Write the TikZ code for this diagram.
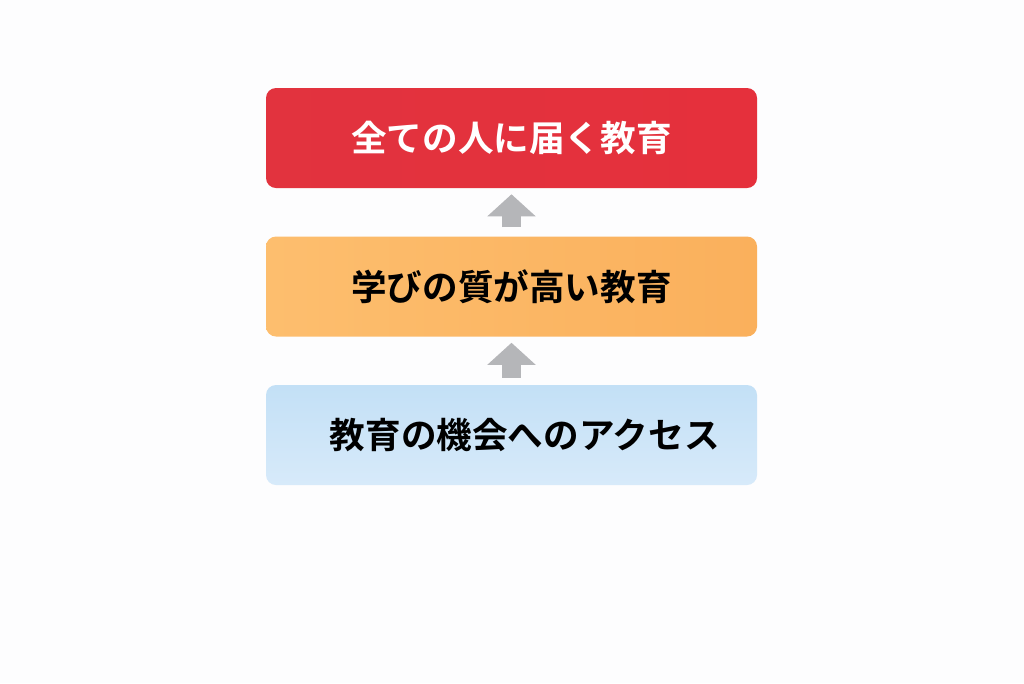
\documentclass[tikz,border=0pt]{standalone}
\usepackage{fontspec}
\usepackage{tikz}
\usetikzlibrary{arrows.meta,positioning}
\newfontfamily\jpfont{Noto Sans CJK JP Bold}

\definecolor{bgwhite}{RGB}{253,253,254}
\definecolor{toptier}{RGB}{229,48,60}
\definecolor{toptierdk}{RGB}{224,40,52}
\definecolor{midtier}{RGB}{253,190,110}
\definecolor{midtierdk}{RGB}{250,176,92}
\definecolor{basetier}{RGB}{195,224,246}
\definecolor{basetierlt}{RGB}{215,234,250}
\definecolor{stepgray}{RGB}{181,182,185}

\tikzset{
  tier/.style={rectangle, rounded corners=7.5pt, minimum width=368.25pt,
    minimum height=75pt, inner sep=0pt, font=\jpfont\fontsize{26.7}{30}\selectfont},
  uparrow/.style={draw=stepgray, line width=14.25pt,
    -{Triangle[width=35.25pt,length=16.5pt]}}
}

\begin{document}
\begin{tikzpicture}[x=0.75pt,y=-0.75pt]
  % canvas 1024 x 683
  \fill[bgwhite] (0,0) rectangle (1024,683);
  \useasboundingbox (0,0) rectangle (1024,683);

  \node[tier, left color=toptierdk!95!white, right color=toptier, text=white]
    (reach) at (511.5,138) {\raisebox{-2pt}{全ての人に届く教育}};
  \node[tier, left color=midtier, right color=midtierdk, text=black]
    (quality) at (511.5,286.5) {\raisebox{-2pt}{学びの質が高い教育}};
  \node[tier, top color=basetier, bottom color=basetierlt, text=black]
    (access) at (511.5,435) {\hspace*{20pt}\raisebox{1.5pt}{教育の機会へのアクセス}};

  \draw[uparrow] ([yshift=6.75pt]quality.north) -- ([yshift=-4.5pt]reach.south);
  \draw[uparrow] ([yshift=5.25pt]access.north) -- ([yshift=-4.5pt]quality.south);
\end{tikzpicture}
\end{document}
